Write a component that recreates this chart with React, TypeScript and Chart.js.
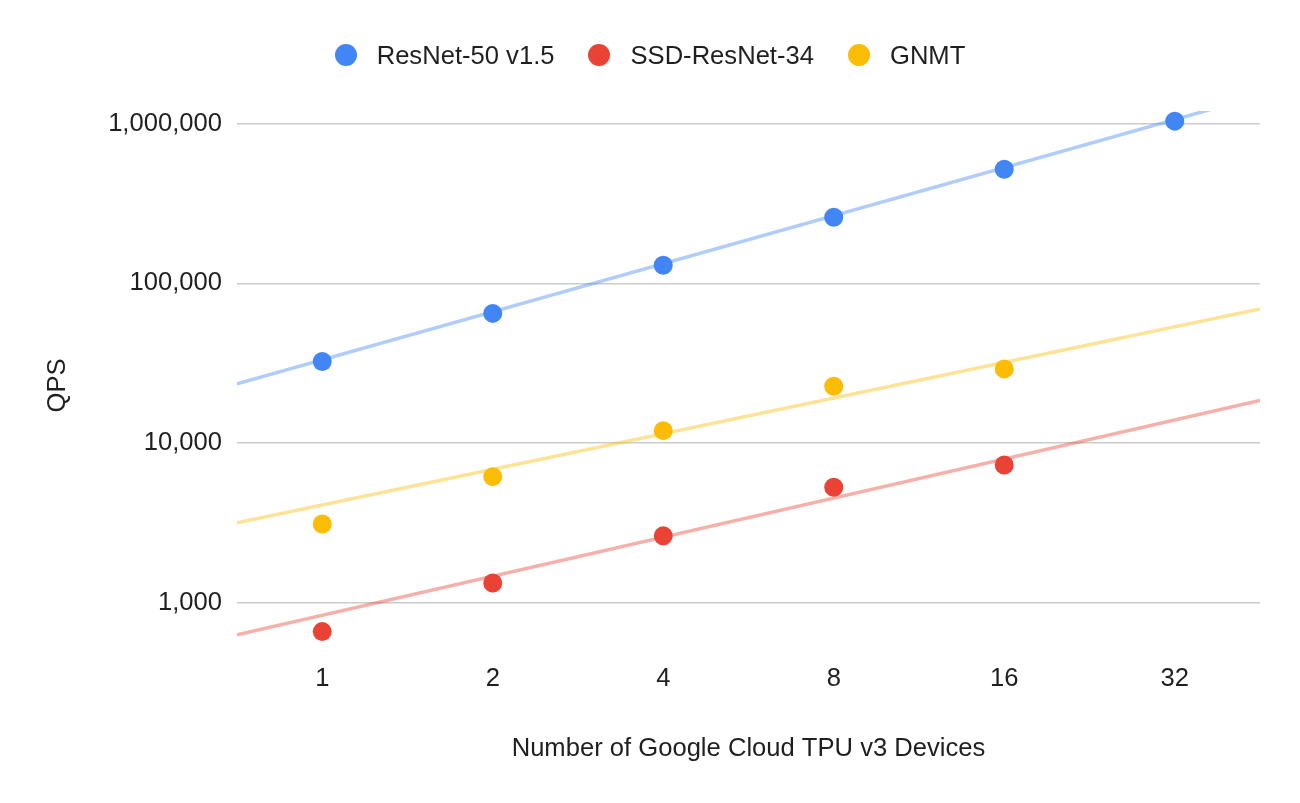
import React, { useEffect, useRef } from "react";
import { Chart, registerables } from "chart.js";

Chart.register(...registerables);

// ---- data ----
const devices = [1, 2, 4, 8, 16, 32];
const resnetQps = [32400, 64800, 129600, 259200, 518400, 1036800];
const ssdQps = [658, 1328, 2618, 5280, 7280];
const gnmtQps = [3110, 6150, 11940, 22630, 29100];

// trendline values read at the left and right edges of the plot area
const edgeDevices = [Math.SQRT1_2, 32 * Math.SQRT2];
const resnetTrend = [23450, 1500000];
const ssdTrend = [628, 18490];
const gnmtTrend = [3157, 69060];

const yTicks = [1000, 10000, 100000, 1000000];
const seriesNames = ["ResNet-50 v1.5", "SSD-ResNet-34", "GNMT"];
const seriesColors = ["#4285f4", "#ea4335", "#fbbc04"];
const trendColors = ["rgba(66,133,244,0.42)", "rgba(234,67,53,0.42)", "rgba(251,188,4,0.42)"];

const FONT = "'Liberation Sans', Arial, sans-serif";
const TEXT = "#1f1f1f";
const FS = 25.6;

const toPoints = (xs: number[], ys: number[]) =>
  ys.map((y, i) => ({ x: Math.log2(xs[i]), y }));

export default function App() {
  const ref = useRef<HTMLCanvasElement | null>(null);

  useEffect(() => {
    document.body.style.margin = "0";
    if (!ref.current) return;
    const series = [resnetQps, ssdQps, gnmtQps];
    const trends = [resnetTrend, ssdTrend, gnmtTrend];
    const pointSets: any[] = series.map((vals, i) => ({
      type: "scatter",
      label: seriesNames[i],
      data: toPoints(devices, vals),
      backgroundColor: seriesColors[i],
      borderWidth: 0,
      pointRadius: 9.5,
      pointHoverRadius: 9.5,
      order: 0,
    }));
    const trendSets: any[] = trends.map((vals, i) => ({
      type: "line",
      label: seriesNames[i] + " trend",
      data: toPoints(edgeDevices, vals),
      borderColor: trendColors[i],
      borderWidth: 3.5,
      pointRadius: 0,
      fill: false,
      order: 1,
    }));

    const chart = new Chart(ref.current, {
      type: "scatter",
      data: { datasets: [...pointSets, ...trendSets] },
      options: {
        animation: false,
        responsive: false,
        events: [],
        layout: { padding: { top: 111, right: 40, bottom: 0, left: 0 } },
        plugins: {
          legend: { display: false },
          tooltip: { enabled: false },
        },
        scales: {
          x: {
            type: "linear",
            min: Math.log2(edgeDevices[0]),
            max: Math.log2(edgeDevices[1]),
            afterBuildTicks: (scale: any) => {
              scale.ticks = devices.map((d) => ({ value: Math.log2(d) }));
            },
            afterFit: (scale: any) => {
              scale.height = 143;
            },
            ticks: {
              color: TEXT,
              font: { family: FONT, size: FS },
              padding: 4,
              maxRotation: 0,
              autoSkip: false,
              callback: (v: any) => String(Math.round(Math.pow(2, Number(v)))),
            },
            grid: { display: false, drawTicks: false },
            border: { display: false },
            title: {
              display: true,
              text: "Number of Google Cloud TPU v3 Devices",
              color: TEXT,
              font: { family: FONT, size: FS },
              padding: { top: 0, bottom: 39 },
            },
          },
          y: {
            type: "logarithmic",
            min: 437,
            max: 1200000,
            afterBuildTicks: (scale: any) => {
              scale.ticks = yTicks.map((v) => ({ value: v }));
            },
            afterFit: (scale: any) => {
              scale.width = 237;
            },
            ticks: {
              color: TEXT,
              font: { family: FONT, size: FS },
              padding: 15,
              autoSkip: false,
              callback: (v: any) => Number(v).toLocaleString("en-US"),
            },
            grid: { color: "#cccccc", lineWidth: 1.5, drawTicks: false },
            border: { display: false },
            title: {
              display: true,
              text: "QPS",
              color: TEXT,
              font: { family: FONT, size: FS },
              padding: { top: 43, bottom: 0 },
            },
          },
        },
      } as any,
    });
    return () => chart.destroy();
  }, []);

  return (
    <div style={{ position: "relative", width: 1300, height: 803, background: "#ffffff" }}>
      <canvas ref={ref} width={1300} height={803} style={{ display: "block" }} />
      <div
        style={{
          position: "absolute",
          top: 40,
          left: 0,
          width: 1300,
          height: 30,
          display: "flex",
          justifyContent: "center",
          alignItems: "center",
          fontFamily: FONT,
          fontSize: FS,
          color: TEXT,
        }}
      >
        {seriesNames.map((name, i) => (
          <div
            key={name}
            style={{ display: "flex", alignItems: "center", marginLeft: i === 0 ? 0 : 34 }}
          >
            <span
              style={{
                display: "inline-block",
                width: 22,
                height: 22,
                borderRadius: 11,
                background: seriesColors[i],
                marginRight: 20,
              }}
            />
            <span style={{ whiteSpace: "nowrap" }}>{name}</span>
          </div>
        ))}
      </div>
    </div>
  );
}
